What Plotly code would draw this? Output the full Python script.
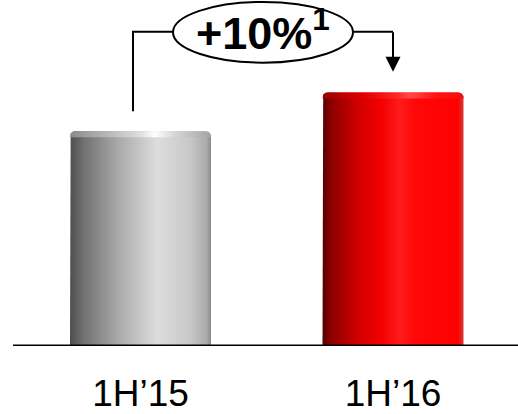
import numpy as np
import plotly.graph_objects as go

# Half-year comparison
periods = ["1H\u201915", "1H\u201916"]
values = [100.0, 118.0]
growth_label = "+10%<sup>1</sup>"

# Horizontal gradients giving each column a cylindrical look
body_scales = [
    [[0, "#4d4d4d"], [0.1, "#727272"], [0.35, "#ababab"], [0.62, "#dddddd"],
     [0.85, "#c8c8c8"], [0.97, "#aaaaaa"], [1, "#8a8a8a"]],
    [[0, "#5a0000"], [0.07, "#900000"], [0.25, "#d00000"], [0.42, "#f40000"],
     [0.55, "#ff1c1c"], [0.65, "#ff0808"], [0.96, "#ff0000"], [1, "#d43a3a"]],
]
rim_scales = [
    [[0, "#8c8c8c"], [0.25, "#b4b4b4"], [0.5, "#dedede"], [0.6, "#ffffff"],
     [0.75, "#d4d4d4"], [1, "#a4a4a4"]],
    [[0, "#9a0000"], [0.3, "#e40000"], [0.55, "#ff2e2e"], [0.62, "#ff4a4a"],
     [0.8, "#ff1414"], [1, "#f01010"]],
]

W, H = 518, 414
BOTTOM = 66
x_range = [-0.5564, 1.495]
y_range = [0, 161.1]
px_x = W / (x_range[1] - x_range[0])            # pixels per x unit
px_y = (H - BOTTOM) / (y_range[1] - y_range[0])  # pixels per y unit

bar_w = 141 / px_x
rx, ry = 5 / px_x, 5 / px_y


def column_outline(xc, top, base, w):
    """Closed outline of a column with rounded top corners."""
    x0, x1 = xc - w / 2, xc + w / 2
    t1 = np.linspace(np.pi, np.pi / 2, 10)
    t2 = np.linspace(np.pi / 2, 0, 10)
    xs = [x0] + list(x0 + rx + rx * np.cos(t1)) + list(x1 - rx + rx * np.cos(t2)) + [x1, x0]
    ys = [base] + list(top - ry + ry * np.sin(t1)) + list(top - ry + ry * np.sin(t2)) + [base, base]
    return xs, ys


fig = go.Figure()
for i, v in enumerate(values):
    xs, ys = column_outline(i, v, 0, bar_w)
    fig.add_trace(go.Scatter(
        x=xs, y=ys, mode="lines", fill="toself", line=dict(width=0),
        fillgradient=dict(type="horizontal", colorscale=body_scales[i],
                          start=i - bar_w / 2, stop=i + bar_w / 2),
        hoverinfo="skip", showlegend=False))
    xs, ys = column_outline(i, v, v - 6 / px_y, bar_w)
    fig.add_trace(go.Scatter(
        x=xs, y=ys, mode="lines", fill="toself", line=dict(width=0),
        fillgradient=dict(type="horizontal", colorscale=rim_scales[i],
                          start=i - bar_w / 2, stop=i + bar_w / 2),
        hoverinfo="skip", showlegend=False))

# Growth callout: bracket from the first column to the second
level = (348 - 32) / px_y
x_left = 0 - 7.5 / px_x
ell_x0, ell_x1 = (173 - 140.5) / px_x, (353 - 140.5) / px_x
ell_y0, ell_y1 = (348 - 63) / px_y, (348 - 2) / px_y
start_y = values[0] + 20 / px_y
tip_y = values[1] + 21 / px_y

fig.add_trace(go.Scatter(
    x=[x_left, x_left, ell_x0], y=[start_y, level, level], mode="lines",
    line=dict(color="black", width=2), hoverinfo="skip", showlegend=False))
fig.add_trace(go.Scatter(
    x=[ell_x1, 1], y=[level, level], mode="lines",
    line=dict(color="black", width=2), hoverinfo="skip", showlegend=False))

fig.add_shape(type="circle", xref="x", yref="y", x0=ell_x0, x1=ell_x1,
              y0=ell_y0, y1=ell_y1, line=dict(color="black", width=2),
              fillcolor="white")
fig.add_annotation(x=1, y=tip_y, ax=1, ay=level + 0.5, axref="x", ayref="y",
                   xref="x", yref="y", text="", showarrow=True, arrowhead=2,
                   arrowsize=1.5, arrowwidth=2, arrowcolor="black")
fig.add_annotation(x=(ell_x0 + ell_x1) / 2, y=(ell_y0 + ell_y1) / 2,
                   xref="x", yref="y", text=growth_label, showarrow=False,
                   font=dict(family="Liberation Sans, Arial", size=45,
                             color="black", weight="bold"),
                   xanchor="center", yanchor="middle", yshift=2)

# Baseline
fig.add_shape(type="line", xref="paper", yref="y", x0=13 / W, x1=1,
              y0=0, y1=0, line=dict(color="black", width=3))

fig.update_layout(
    width=W, height=H,
    margin=dict(l=0, r=0, t=0, b=BOTTOM),
    paper_bgcolor="white", plot_bgcolor="white",
    xaxis=dict(range=x_range, tickvals=[0, 1], ticktext=periods,
               showgrid=False, zeroline=False, showline=False, ticks="",
               ticklabelstandoff=22,
               tickfont=dict(family="Liberation Sans, Arial", size=37,
                             color="black"),
               fixedrange=True),
    yaxis=dict(range=y_range, visible=False, fixedrange=True),
    showlegend=False,
)

fig.write_html("out.html")
